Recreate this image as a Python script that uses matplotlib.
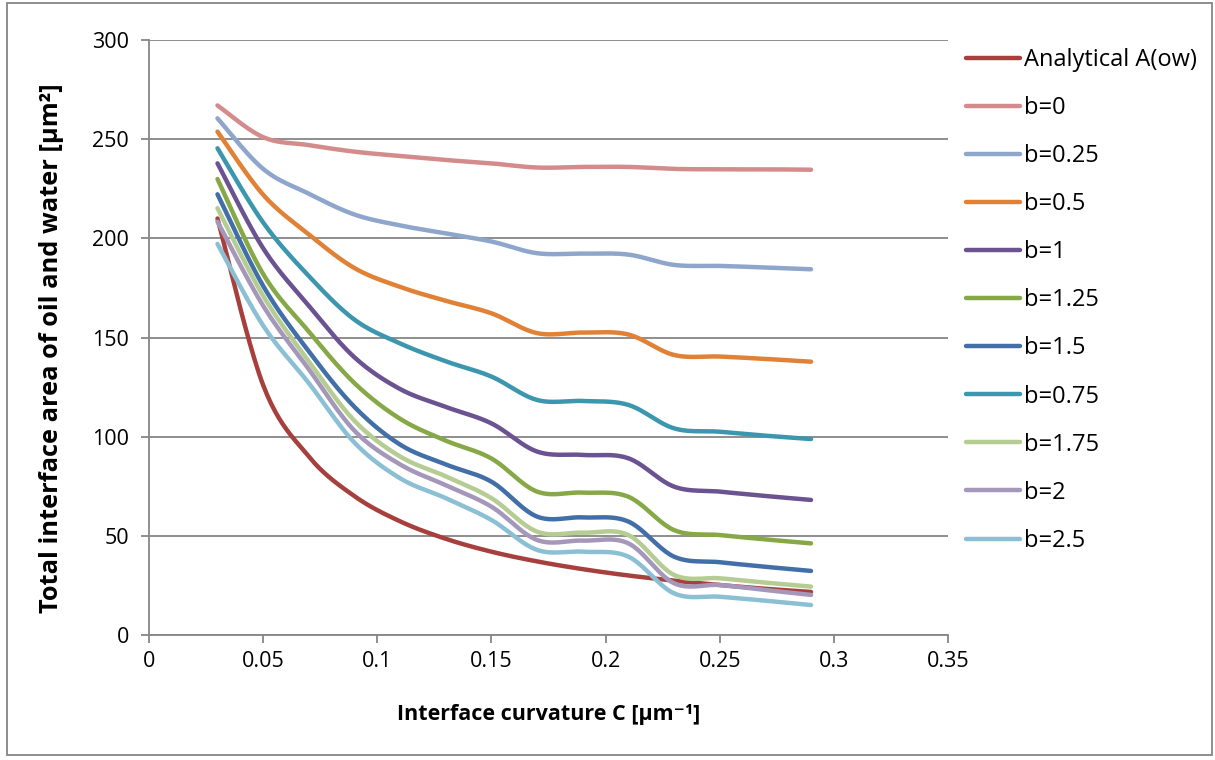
import numpy as np
import matplotlib
matplotlib.use("Agg")
import matplotlib.pyplot as plt
from matplotlib.patches import Rectangle

plt.rcParams['font.family'] = ['Open Sans', 'DejaVu Sans']

# interface curvature C [um^-1]
curv = [0.03, 0.05, 0.07, 0.09, 0.11, 0.13, 0.15, 0.17, 0.19, 0.21, 0.23, 0.25, 0.27, 0.29]

analytical = [210, 126, 90, 70, 57.3, 48.5, 42, 37.1, 33.2, 30, 27.4, 25.2, 23.3, 21.7]
b_0    = [267, 251, 247, 243.7, 241.5, 239.5, 237.8, 235.7, 236, 236, 235, 234.8, 234.8, 234.6]
b_025  = [260.5, 235, 222.5, 212, 206.5, 202.5, 198.4, 192.5, 192.3, 191.8, 186.6, 186.1, 185.3, 184.4]
b_05   = [253.8, 222, 202, 185, 175.5, 168.5, 162.2, 152.2, 152.5, 151.5, 141.2, 140.4, 139.2, 137.8]
b_1    = [237.8, 195, 166, 140, 124, 115, 106.7, 92.5, 90.8, 89.1, 74.8, 72.3, 70.1, 68.1]
b_125  = [229.9, 182, 153, 127, 109, 98, 89, 72.3, 71.8, 69.7, 52.9, 50.4, 48.2, 46.2]
b_15   = [222.2, 176, 143, 115, 96, 86, 77.3, 59.7, 59.3, 57.2, 39.5, 36.7, 34.4, 32.3]
b_075  = [245.4, 208, 181, 159, 147, 138, 130.3, 118.5, 118, 116, 104.2, 102.5, 100.5, 98.8]
b_175  = [215.2, 171, 138, 108, 90, 80, 69, 52.1, 51.6, 50.4, 30.3, 28.6, 26.4, 24.4]
b_2    = [208.4, 166, 134, 103, 86, 75.5, 64.7, 47.9, 47.6, 46.2, 26.1, 25.2, 22.7, 20.2]
b_25   = [197.2, 156, 127, 97, 79, 69, 58, 42.9, 42, 39.5, 21, 19.3, 17.3, 15.1]

labels = ["Analytical A(ow)", "b=0", "b=0.25", "b=0.5", "b=1", "b=1.25", "b=1.5",
          "b=0.75", "b=1.75", "b=2", "b=2.5"]
series = [analytical, b_0, b_025, b_05, b_1, b_125, b_15, b_075, b_175, b_2, b_25]
colors = ["#A7403C", "#D38C8B", "#8EA5CC", "#E08136", "#6B5290", "#86A846",
          "#426FA7", "#3C97AE", "#B5CC92", "#A597BA", "#8BC0D4"]


def smooth(x, y, n=24):
    # excel-like smoothed line (bezier through the points)
    p = np.column_stack([x, y]).astype(float)
    out = [p[0]]
    t = np.linspace(0, 1, n)[1:, None]
    for i in range(len(p) - 1):
        p0 = p[i - 1] if i > 0 else p[i]
        p1, p2 = p[i], p[i + 1]
        p3 = p[i + 2] if i + 2 < len(p) else p[i + 1]
        c1 = p1 + (p2 - p0) / 6.
        c2 = p2 - (p3 - p1) / 6.
        seg = (1 - t)**3 * p1 + 3 * (1 - t)**2 * t * c1 + 3 * (1 - t) * t**2 * c2 + t**3 * p2
        out.extend(seg)
    out = np.array(out)
    return out[:, 0], out[:, 1]


fig = plt.figure(figsize=(12.15, 7.6), dpi=100)
ax = fig.add_axes([149/1215, 125/760, 799/1215, 595/760])

for y, c, lab in zip(series, colors, labels):
    xs, ys = smooth(curv, y)
    ax.plot(xs, ys, color=c, lw=3.2, label=lab, solid_capstyle="round")

ax.set_xlim(0, 0.35)
ax.set_ylim(0, 300)
ax.set_xticks(np.arange(0, 0.351, 0.05))
ax.set_xticklabels(["0", "0.05", "0.1", "0.15", "0.2", "0.25", "0.3", "0.35"])
ax.set_yticks(np.arange(0, 301, 50))
ax.yaxis.grid(True, color="#868686", lw=1.3)
ax.set_axisbelow(True)
for s in ["top", "right"]:
    ax.spines[s].set_visible(False)
for s in ["left", "bottom"]:
    ax.spines[s].set_color("#868686")
    ax.spines[s].set_linewidth(1.3)
ax.tick_params(axis="both", length=5.5, width=1.3, color="#868686", labelsize=15.5)
ax.tick_params(axis="y", pad=9)
ax.tick_params(axis="x", pad=6)

ax.set_ylabel("Total interface area of oil and water [µm²]", fontsize=18.3, fontweight="bold", labelpad=20)
ax.yaxis.label.set_y(0.4815)
ax.set_xlabel("Interface curvature C [µm⁻¹]", fontsize=15.5, fontweight="bold", labelpad=23)

ax.legend(loc="upper left", bbox_to_anchor=(966/1215, 1 - 48/760), bbox_transform=fig.transFigure,
          frameon=False, fontsize=17, handlelength=2.3, handletextpad=0.17,
          labelspacing=1.02, borderaxespad=0, borderpad=0)

fig.patches.append(Rectangle((7/1215, 5/760), 1205/1215, 752/760, transform=fig.transFigure,
                             fill=False, edgecolor="#868686", lw=1.3))

plt.savefig("out.png", dpi=100)
